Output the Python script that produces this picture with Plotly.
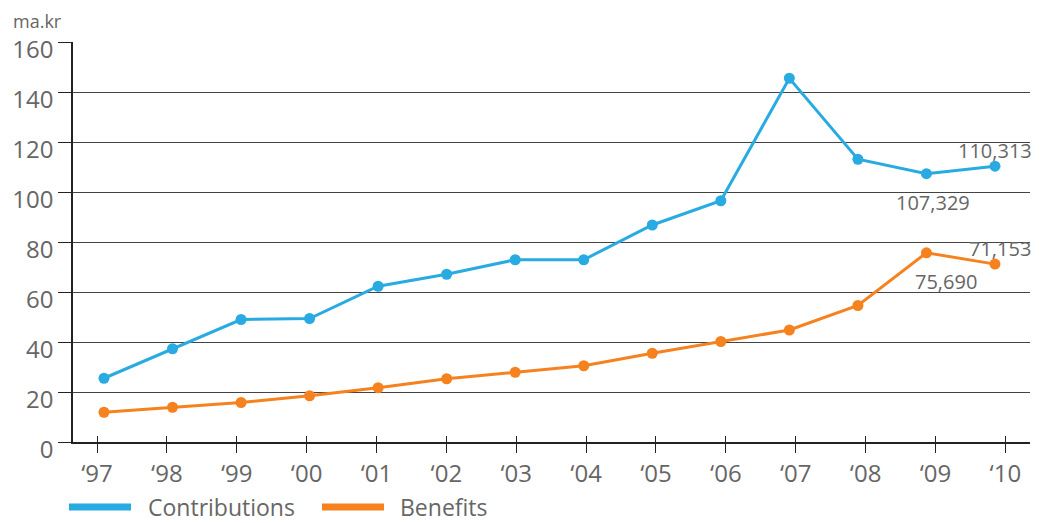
import plotly.graph_objects as go

# Pension fund flows, billions of ISK (ma.kr)
years = ["‘97", "‘98", "‘99", "‘00", "‘01", "‘02", "‘03", "‘04",
         "‘05", "‘06", "‘07", "‘08", "‘09", "‘10"]
contributions = [25.5, 37.3, 49.0, 49.4, 62.3, 67.1, 72.9, 72.9,
                 86.8, 96.5, 145.5, 113.1, 107.329, 110.313]
benefits = [11.9, 13.9, 15.8, 18.5, 21.7, 25.3, 27.9, 30.5,
            35.5, 40.2, 44.8, 54.6, 75.690, 71.153]
y_ticks = [0, 20, 40, 60, 80, 100, 120, 140, 160]

BLUE = "#29abe2"
ORANGE = "#f5821f"
GREY = "#666666"
FONT = "Open Sans, DejaVu Sans, sans-serif"

W, H = 1044, 523
ML, MR, MT, MB = 73, 14, 42, 81
PW = W - ML - MR
PH = H - MT - MB


def px_x(px):
    return (px - ML) / PW


def px_y(py):
    return (H - MB - py) / PH


fig = go.Figure()
fig.add_trace(go.Scatter(
    x=years, y=contributions, mode="lines+markers", name="Contributions",
    line=dict(color=BLUE, width=3), marker=dict(color=BLUE, size=11),
    showlegend=False, hoverinfo="skip"))
fig.add_trace(go.Scatter(
    x=years, y=benefits, mode="lines+markers", name="Benefits",
    line=dict(color=ORANGE, width=3), marker=dict(color=ORANGE, size=11),
    showlegend=False, hoverinfo="skip"))

# value labels for the last two years
label_specs = [
    (contributions, 13, 0, 16),
    (contributions, 12, 7, -29),
    (benefits, 13, 5, 16),
    (benefits, 12, 20, -29),
]
for series, i, dx, dy in label_specs:
    fig.add_annotation(
        x=years[i], y=series[i], xref="x", yref="y",
        text=f"{series[i]:.3f}".replace(".", ","), showarrow=False,
        xshift=dx, yshift=dy, font=dict(family=FONT, size=20, color=GREY))

# unit label
fig.add_annotation(x=px_x(11), y=px_y(21), xref="paper", yref="paper",
                   xanchor="left", yanchor="middle", text="ma.kr", showarrow=False,
                   font=dict(family=FONT, size=18, color=GREY))

# legend
legend_items = [("Contributions", BLUE, 69, 131, 146),
                ("Benefits", ORANGE, 322, 384, 398)]
for label, color, x0, x1, tx in legend_items:
    fig.add_shape(type="line", xref="paper", yref="paper",
                  x0=px_x(x0), x1=px_x(x1), y0=px_y(507), y1=px_y(507),
                  line=dict(color=color, width=7))
    fig.add_annotation(x=px_x(tx), y=px_y(507), xref="paper", yref="paper",
                       xanchor="left", yanchor="middle", text=label,
                       showarrow=False, font=dict(family=FONT, size=23, color=GREY))

tick_range = [-0.3435, 13.353]

fig.update_layout(
    width=W, height=H,
    margin=dict(l=ML, r=MR, t=MT, b=MB),
    paper_bgcolor="white", plot_bgcolor="white",
    font=dict(family=FONT, size=23, color=GREY),
    xaxis=dict(
        range=[-0.452, 13.511], showticklabels=False, ticks="",
        showgrid=False, zeroline=False,
        showline=True, linecolor="#222", linewidth=1.5, fixedrange=True),
    xaxis2=dict(
        overlaying="x", anchor="y", side="bottom", range=tick_range,
        tickmode="array", tickvals=list(range(len(years))), ticktext=years,
        ticks="outside", ticklen=10, tickwidth=1.2, tickcolor="#222",
        showgrid=False, zeroline=False, showline=False,
        tickfont=dict(family=FONT, size=24, color=GREY)),
    xaxis3=dict(
        overlaying="x", anchor="y", side="bottom", range=tick_range,
        tickmode="array", tickvals=list(range(len(years))),
        showticklabels=False, ticks="inside", ticklen=6, tickwidth=1.2,
        tickcolor="#222", showgrid=False, zeroline=False, showline=False),
    yaxis=dict(
        range=[0, 160], tickmode="array", tickvals=y_ticks,
        ticks="outside", ticklen=13, tickwidth=1.2, tickcolor="#222",
        ticklabelshift=8,
        showgrid=True, gridcolor="#444", gridwidth=1,
        zeroline=False, showline=True, linecolor="#222", linewidth=1.5,
        tickfont=dict(family=FONT, size=24, color=GREY)),
)

# placeholder traces so the tick-only axes are laid out
fig.add_trace(go.Scatter(x=[0, 13], y=[None, None], xaxis="x2",
                         showlegend=False, hoverinfo="skip"))
fig.add_trace(go.Scatter(x=[0, 13], y=[None, None], xaxis="x3",
                         showlegend=False, hoverinfo="skip"))

fig.write_html("out.html")
